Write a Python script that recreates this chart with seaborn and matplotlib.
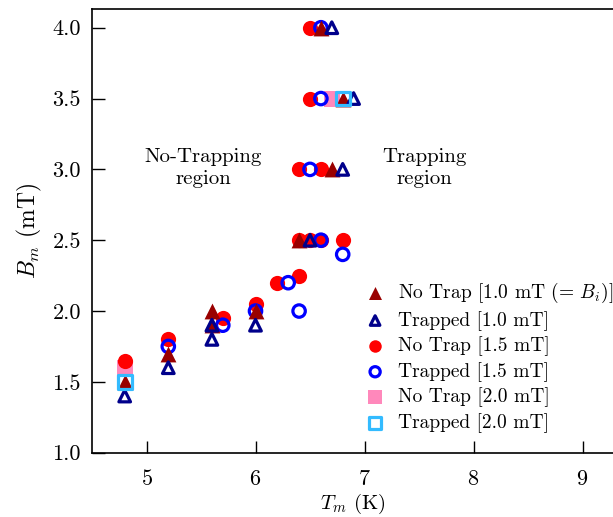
import numpy as np
import pandas as pd
import matplotlib
matplotlib.use("Agg")
import matplotlib.pyplot as plt
import seaborn as sns

# Datos: (T_m [K], B_m [mT]) por serie
notrap_10_T = [4.8, 5.2, 5.6, 5.6, 6.0, 6.4, 6.7, 6.8, 6.6]
notrap_10_B = [1.5, 1.7, 2.0, 1.9, 2.0, 2.5, 3.0, 3.5, 4.0]

trapped_10_T = [4.8, 5.2, 5.6, 5.6, 6.0, 6.5, 6.8, 6.9, 6.7]
trapped_10_B = [1.4, 1.6, 1.9, 1.8, 1.9, 2.5, 3.0, 3.5, 4.0]

notrap_15_T = [4.8, 5.2, 5.7, 6.0, 6.2, 6.4, 6.4, 6.5, 6.6, 6.8, 6.4, 6.6, 6.5, 6.5]
notrap_15_B = [1.65, 1.8, 1.95, 2.05, 2.2, 2.25, 2.5, 2.5, 2.5, 2.5, 3.0, 3.0, 3.5, 4.0]

trapped_15_T = [5.2, 5.7, 6.0, 6.3, 6.4, 6.6, 6.8, 6.5, 6.6, 6.6]
trapped_15_B = [1.75, 1.9, 2.0, 2.2, 2.0, 2.5, 2.4, 3.0, 3.5, 4.0]

notrap_20_T = [4.8, 6.7]
notrap_20_B = [1.6, 3.5]

trapped_20_T = [4.8, 6.8]
trapped_20_B = [1.5, 3.5]

sns.set_theme(style="ticks")
plt.rcParams["font.family"] = ["cmr10", "DejaVu Serif"]
plt.rcParams["mathtext.fontset"] = "cm"
plt.rcParams["axes.formatter.use_mathtext"] = True
plt.rcParams["axes.unicode_minus"] = False
for k in ["text.color", "axes.labelcolor", "xtick.color", "ytick.color"]:
    plt.rcParams[k] = "black"

fig = plt.figure(figsize=(6.13, 5.17), dpi=100)
ax = fig.add_axes([92 / 613, 1 - 452.7 / 517, (613 - 92) / 613, (452.7 - 9.3) / 517])

# (etiqueta, T, B, marcador, relleno, borde, tamaño)
series = [
    ("No Trap [2.0 mT]", notrap_20_T, notrap_20_B, "s", "#ff88bb", "#ff88bb", 135),
    ("No Trap [1.5 mT]", notrap_15_T, notrap_15_B, "o", "#ff0000", "#ff0000", 120),
    ("Trapped [1.5 mT]", trapped_15_T, trapped_15_B, "o", "none", "#0000ff", 80),
    ("No Trap [1.0 mT (= $B_i$)]", notrap_10_T, notrap_10_B, "^", "#990000", "#990000", 130),
    ("Trapped [1.0 mT]", trapped_10_T, trapped_10_B, "^", "none", "#00008b", 70),
    ("Trapped [2.0 mT]", trapped_20_T, trapped_20_B, "s", "none", "#33bbff", 100),
]

handles = {}
for label, T, B, mk, fc, ec, size in series:
    df = pd.DataFrame({"T": T, "B": B})
    sns.scatterplot(data=df, x="T", y="B", ax=ax, marker=mk, s=size,
                    facecolor=fc, edgecolor=ec, linewidth=2.3 if fc == "none" else 0,
                    label=label, legend=False, zorder=3)
    handles[label] = ax.collections[-1]

order = ["No Trap [1.0 mT (= $B_i$)]", "Trapped [1.0 mT]", "No Trap [1.5 mT]",
         "Trapped [1.5 mT]", "No Trap [2.0 mT]", "Trapped [2.0 mT]"]
ax.legend([handles[k] for k in order], order, loc="lower right", frameon=False,
          fontsize=14, handletextpad=0.6, handlelength=1.2, labelspacing=0.3,
          markerscale=0.82, bbox_to_anchor=(1.035, 0.005))

ax.text(5.52, 3.01, "No-Trapping\nregion", ha="center", va="center", fontsize=15,
        linespacing=1.3)
ax.text(7.55, 3.01, "Trapping\nregion", ha="center", va="center", fontsize=15,
        linespacing=1.3)

ax.set_xlim(4.5, 4.5 + 521 / 109)
ax.set_ylim(1.0, 4.13)
ax.set_xticks([5, 6, 7, 8, 9])
ax.set_yticks(np.arange(1.0, 4.01, 0.5))
ax.set_yticklabels([f"{v:.1f}" for v in np.arange(1.0, 4.01, 0.5)])
ax.tick_params(direction="in", length=9, width=1, labelsize=16, pad=8)
ax.tick_params(axis="x", pad=12)
ax.spines["right"].set_visible(False)
for s in ["left", "bottom", "top"]:
    ax.spines[s].set_linewidth(1.2)
    ax.spines[s].set_color("black")

ax.set_xlabel("$T_m$ (K)", fontsize=15, labelpad=2)
ax.set_ylabel("$B_m$ (mT)", fontsize=17, labelpad=6)

fig.savefig("out.png", dpi=100)
